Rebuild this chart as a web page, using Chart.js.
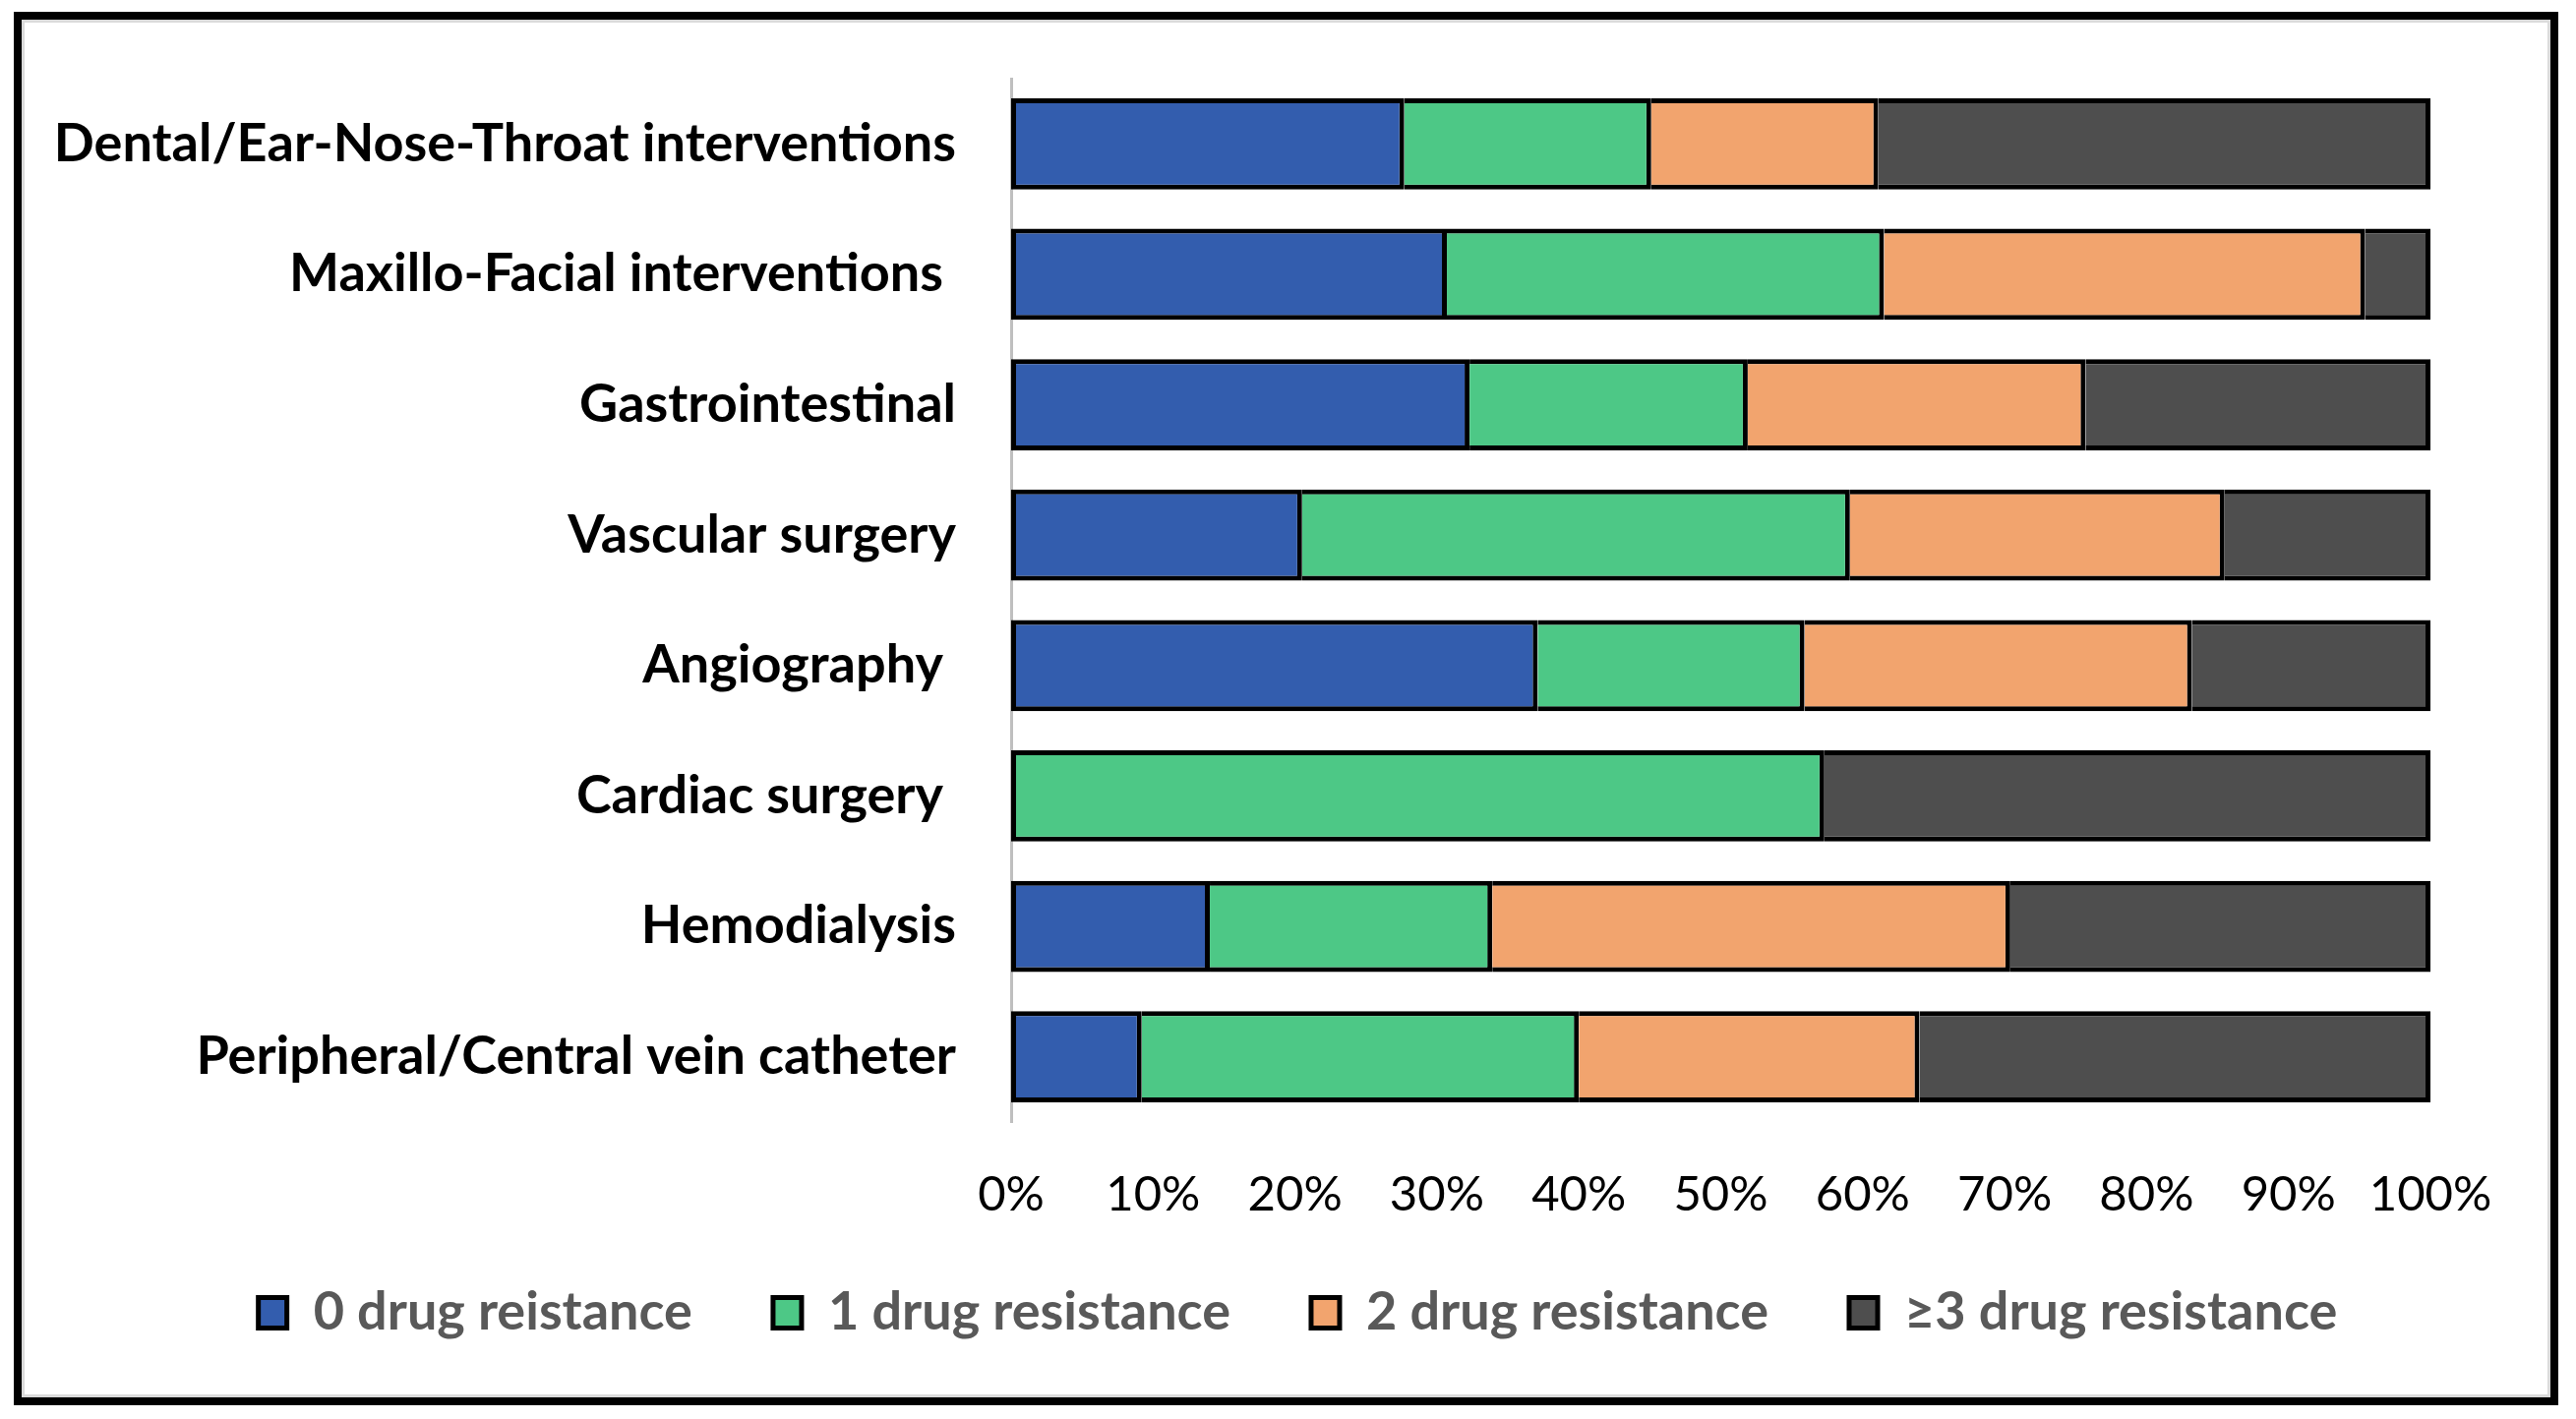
<!DOCTYPE html>
<html>
<head>
<meta charset="utf-8">
<script src="https://cdn.jsdelivr.net/npm/chart.js@4.4.0/dist/chart.umd.min.js"></script>
<style>
  html, body { margin: 0; padding: 0; background: #ffffff; }
  #wrap { width: 2619px; height: 1443px; position: relative; }
  canvas { display: block; }
</style>
</head>
<body>
<div id="wrap"><canvas id="c" width="2619" height="1443"></canvas></div>
<script>
// ---- data ----
const categories = [
  "Dental/Ear-Nose-Throat interventions",
  "Maxillo-Facial interventions ",
  "Gastrointestinal",
  "Vascular surgery",
  "Angiography ",
  "Cardiac surgery ",
  "Hemodialysis",
  "Peripheral/Central vein catheter"
];
const seriesNames = ["0 drug reistance", "1 drug resistance", "2 drug resistance", "\u22653 drug resistance"];
const drug0 = [27.7, 30.7, 32.3, 20.5, 37.1, 0, 14.0, 9.2];
const drug1 = [17.4, 30.8, 19.6, 38.6, 18.8, 57.3, 19.9, 30.8];
const drug2 = [16.0, 33.9, 23.8, 26.4, 27.3, 0, 36.5, 24.0];
const drug3 = [38.9, 4.6, 24.3, 14.5, 16.8, 42.7, 29.6, 36.0];
const xTickValues = [0, 10, 20, 30, 40, 50, 60, 70, 80, 90, 100];

// ---- styles ----
const seriesColors = ["#335DAE", "#4DC886", "#F2A46E", "#4E4E4E"];
const allSeries = [drug0, drug1, drug2, drug3];
const FONT = "Lato";

const framePlugin = {
  id: "frame",
  afterLayout(chart) {
    const lg = chart.legend;
    if (lg) {
      lg.left += 84; lg.right += 84;
      lg.top -= 19; lg.bottom -= 19;
    }
  },
  beforeDraw(chart) {
    const ctx = chart.ctx;
    ctx.save();
    ctx.fillStyle = "#ffffff";
    ctx.fillRect(0, 0, chart.width, chart.height);
    ctx.restore();
  },
  afterDraw(chart) {
    const ctx = chart.ctx;
    ctx.save();
    ctx.strokeStyle = "#DADADA";
    ctx.lineWidth = 3;
    ctx.strokeRect(23.5, 21.5, 2568, 1398);
    ctx.strokeStyle = "#000000";
    ctx.lineWidth = 8;
    ctx.strokeRect(18, 16, 2579, 1409);
    ctx.restore();
  }
};

function borderSkip(ctx) {
  const i = ctx.dataIndex, d = ctx.datasetIndex;
  for (let k = 0; k < d; k++) {
    if (allSeries[k][i] > 0) return "start";
  }
  return false;
}

function build() {
  const datasets = allSeries.map((vals, k) => ({
    label: seriesNames[k],
    data: vals,
    backgroundColor: seriesColors[k],
    borderColor: "#000000",
    borderWidth: 5,
    borderSkipped: borderSkip,
    barPercentage: 0.7,
    categoryPercentage: 1.0
  }));

  new Chart(document.getElementById("c"), {
    type: "bar",
    data: { labels: categories, datasets },
    plugins: [framePlugin],
    options: {
      indexAxis: "y",
      responsive: false,
      animation: false,
      devicePixelRatio: 1,
      layout: { padding: { left: 0, right: 148, top: 80, bottom: 52 } },
      plugins: {
        tooltip: { enabled: false },
        legend: {
          position: "bottom",
          labels: {
            font: { family: FONT, size: 54, weight: "bold" },
            color: "#595959",
            boxWidth: 29,
            boxHeight: 31,
            padding: 82
          }
        }
      },
      scales: {
        x: {
          stacked: true,
          min: 0,
          max: 100,
          afterBuildTicks(scale) {
            scale.ticks = xTickValues.map(v => ({ value: v }));
          },
          ticks: {
            callback: v => v + "%",
            font: { family: FONT, size: 49, lineHeight: 1.2 },
            color: "#000000",
            padding: 45,
            maxRotation: 0,
            autoSkip: false
          },
          grid: { display: false, drawTicks: false },
          border: { display: false },
          afterFit(scale) { scale.height = 104; }
        },
        y: {
          stacked: true,
          ticks: {
            font: { family: FONT, size: 54, weight: "bold" },
            color: "#000000",
            padding: 56,
            autoSkip: false
          },
          grid: { display: false, drawTicks: false },
          border: { display: true, color: "#BFBFBF", width: 3 },
          afterFit(scale) {
            scale.width = 1028;
            scale.paddingTop = 0;
            scale.paddingBottom = 0;
          }
        }
      }
    }
  });
}

const loads = [
  document.fonts.load("bold 54px Lato"),
  document.fonts.load("49px Lato")
];
Promise.all(loads).then(build, build);
</script>
</body>
</html>
